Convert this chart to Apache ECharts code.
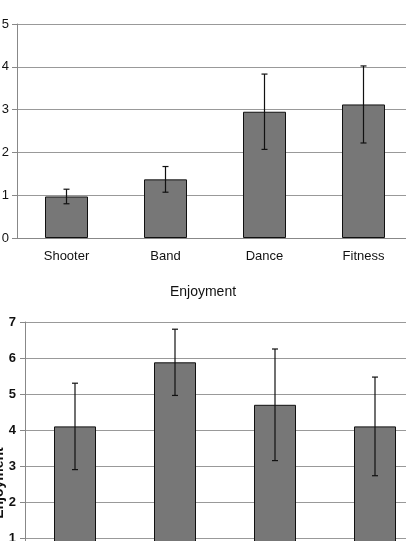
<!DOCTYPE html>
<html>
<head>
<meta charset="utf-8">
<script src="https://cdn.jsdelivr.net/npm/echarts@6/dist/echarts.min.js"></script>
<style>
  html, body { margin: 0; padding: 0; background: #fff; }
  #main { width: 406px; height: 541px; }
</style>
</head>
<body>
<div id="main"></div>
<script>
var dom = document.getElementById('main');
var myChart = echarts.init(dom);

// categories shared by both panels
var categories = ['Shooter', 'Band', 'Dance', 'Fitness'];

// top panel (title cut off in the photo)
var topMeans = [0.97, 1.37, 2.95, 3.12];
var topErrors = [0.17, 0.3, 0.88, 0.9];

// bottom panel: Enjoyment
var enjoyMeans = [4.1, 5.88, 4.7, 4.1];
var enjoyErrors = [1.2, 0.92, 1.55, 1.37];

function errorBars(means, errs) {
    return means.map(function (m, i) {
        return [i, m - errs[i], m + errs[i]];
    });
}

function renderError(params, api) {
    var x = api.value(0);
    var lo = api.coord([x, api.value(1)]);
    var hi = api.coord([x, api.value(2)]);
    var cap = 3;
    var style = { stroke: '#111', lineWidth: 1.2 };
    return {
        type: 'group',
        children: [
            { type: 'line', shape: { x1: lo[0], y1: lo[1], x2: hi[0], y2: hi[1] }, style: style },
            { type: 'line', shape: { x1: lo[0] - cap, y1: lo[1], x2: lo[0] + cap, y2: lo[1] }, style: style },
            { type: 'line', shape: { x1: hi[0] - cap, y1: hi[1], x2: hi[0] + cap, y2: hi[1] }, style: style }
        ]
    };
}

var axisFont = { fontFamily: 'Liberation Sans', color: '#111', fontSize: 13 };

var option = {
    backgroundColor: '#fff',
    animation: false,
    title: {
        text: 'Enjoyment',
        left: 'center',
        top: 280,
        textStyle: { fontFamily: 'Liberation Sans', fontWeight: 'normal', fontSize: 14, color: '#111' }
    },
    grid: [
        { left: 17, right: -7, top: 24, bottom: 303, outerBoundsMode: 'none' },
        { left: 25, right: -19, top: 322, bottom: -33, outerBoundsMode: 'none' }
    ],
    xAxis: [
        {
            type: 'category', gridIndex: 0, data: categories,
            axisLine: { lineStyle: { color: '#888' } },
            axisTick: { lineStyle: { color: '#888' } },
            axisLabel: Object.assign({ margin: 12 }, axisFont)
        },
        {
            type: 'category', gridIndex: 1, data: categories,
            axisLine: { lineStyle: { color: '#888' } },
            axisTick: { lineStyle: { color: '#888' } },
            axisLabel: Object.assign({ margin: 12 }, axisFont)
        }
    ],
    yAxis: [
        {
            type: 'value', gridIndex: 0, min: 0, max: 5, interval: 1,
            axisLine: { show: true, lineStyle: { color: '#888' } },
            axisTick: { show: true, lineStyle: { color: '#888' } },
            splitLine: { lineStyle: { color: '#999' } },
            axisLabel: Object.assign({ margin: 8 }, axisFont)
        },
        {
            type: 'value', gridIndex: 1, min: 0, max: 7, interval: 1,
            name: 'Enjoyment', nameLocation: 'middle', nameGap: 19, nameMoveOverlap: false,
            nameTextStyle: {
                fontFamily: 'Liberation Sans', fontWeight: 'bold', fontSize: 14, color: '#111',
                padding: [0, 70, 0, 0]
            },
            axisLine: { show: true, lineStyle: { color: '#888' } },
            axisTick: { show: true, lineStyle: { color: '#888' } },
            splitLine: { lineStyle: { color: '#999' } },
            axisLabel: Object.assign({ margin: 9, fontWeight: 'bold' }, axisFont)
        }
    ],
    series: [
        {
            type: 'bar', xAxisIndex: 0, yAxisIndex: 0, data: topMeans, barWidth: 43,
            itemStyle: { color: '#777', borderColor: '#111', borderWidth: 1 }
        },
        {
            type: 'custom', xAxisIndex: 0, yAxisIndex: 0, data: errorBars(topMeans, topErrors),
            renderItem: renderError, z: 10
        },
        {
            type: 'bar', xAxisIndex: 1, yAxisIndex: 1, data: enjoyMeans, barWidth: 42,
            itemStyle: { color: '#777', borderColor: '#111', borderWidth: 1 }
        },
        {
            type: 'custom', xAxisIndex: 1, yAxisIndex: 1, data: errorBars(enjoyMeans, enjoyErrors),
            renderItem: renderError, z: 10
        }
    ]
};

if (option && typeof option === 'object') {
    myChart.setOption(option);
}
</script>
</body>
</html>
